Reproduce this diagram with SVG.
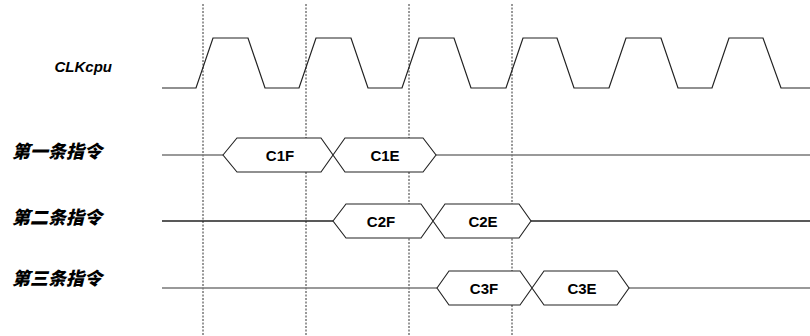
<svg xmlns="http://www.w3.org/2000/svg" width="810" height="336" viewBox="0 0 810 336">
<style>
.dash{stroke:#333;stroke-width:1;stroke-dasharray:2,1.5;fill:none}
.wave{stroke:#222;stroke-width:1.2;fill:none}
.bus{stroke:#777;stroke-width:1.3;fill:none}
.hex{stroke:#222;stroke-width:1.1;fill:#fff}
.lbl{font-family:"Noto Sans CJK SC","Liberation Sans",sans-serif;font-weight:900;font-size:18px;fill:#000}
.clk{font-family:"Liberation Sans",Arial,sans-serif;font-weight:bold;font-style:italic;font-size:15px;fill:#000}
.t{font-family:"Liberation Sans",Arial,sans-serif;font-weight:bold;font-size:15px;fill:#000;text-anchor:middle}
</style>
<rect width="810" height="336" fill="#fff"/>
<g id="guides">
<line class="dash" x1="203" y1="4" x2="203" y2="336"/>
<line class="dash" x1="306" y1="4" x2="306" y2="336"/>
<line class="dash" x1="409" y1="4" x2="409" y2="336"/>
<line class="dash" x1="512" y1="4" x2="512" y2="336"/>
</g>
<g id="clk">
<text class="clk" x="112" y="72" text-anchor="end">CLKcpu</text>
<polyline class="wave" points="162,88 196,88 213,38 248,38 265,88 299,88 316,38 351,38 368,88 402,88 419,38 454,38 471,88 506,88 523,38 557,38 574,88 609,88 626,38 661,38 678,88 712,88 729,38 763,38 781,88 810,88"/>
</g>
<g id="connectors">
<line class="bus" x1="162" y1="155" x2="223" y2="155"/>
<line class="bus" x1="436" y1="155" x2="810" y2="155"/>
<line class="bus" x1="162" y1="221" x2="333" y2="221" style="stroke:#222"/>
<line class="bus" x1="531" y1="221" x2="810" y2="221" style="stroke:#222"/>
<line class="bus" x1="162" y1="288" x2="437" y2="288"/>
<line class="bus" x1="629" y1="288" x2="810" y2="288"/>
</g>
<g id="row1">
<text class="lbl" transform="translate(12,158) skewX(-14)">第一条指令</text>
<polygon class="hex" points="223,155 237,138 321,138 333,155 321,172 237,172"/>
<polygon class="hex" points="333,155 345,138 423,138 436,155 423,172 345,172"/>
<text class="t" x="280" y="160.5">C1F</text>
<text class="t" x="385" y="160.5">C1E</text>
</g>
<g id="row2">
<text class="lbl" transform="translate(12,224) skewX(-14)">第二条指令</text>
<polygon class="hex" points="333,221 346,204 421,204 433,221 421,238 346,238"/>
<polygon class="hex" points="433,221 445,204 519,204 531,221 519,238 445,238"/>
<text class="t" x="381" y="226.5">C2F</text>
<text class="t" x="483" y="226.5">C2E</text>
</g>
<g id="row3">
<text class="lbl" transform="translate(12,285) skewX(-14)">第三条指令</text>
<polygon class="hex" points="437,288 449,271 520,271 532,288 520,305 449,305"/>
<polygon class="hex" points="532,288 544,271 617,271 629,288 617,305 544,305"/>
<text class="t" x="484" y="293.5">C3F</text>
<text class="t" x="582" y="293.5">C3E</text>
</g>
</svg>
